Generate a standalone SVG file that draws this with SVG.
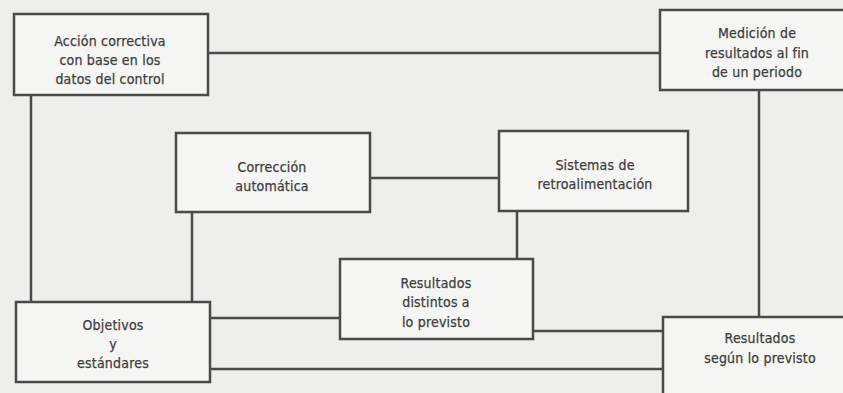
<svg xmlns="http://www.w3.org/2000/svg" width="843" height="393" viewBox="0 0 843 393">
<style>
.bg{fill:#eeeeec}
.box{fill:#f5f5f3;stroke:#4a4a4a;stroke-width:2.5}
.ln{fill:none;stroke:#4a4a4a;stroke-width:2.5}
.t{font-family:"DejaVu Sans Condensed","DejaVu Sans",sans-serif;font-size:14px;letter-spacing:0.2px;fill:#3e3e3e;stroke:#3e3e3e;stroke-width:0.25;text-anchor:middle}
</style>
<rect class="bg" x="0" y="0" width="843" height="393"/>
<g id="connectors">
<line class="ln" x1="208" y1="53" x2="660" y2="53"/>
<line class="ln" x1="31" y1="95" x2="31" y2="302"/>
<line class="ln" x1="759" y1="90" x2="759" y2="317"/>
<line class="ln" x1="370" y1="178" x2="499" y2="178"/>
<line class="ln" x1="192" y1="212" x2="192" y2="302"/>
<line class="ln" x1="517" y1="211" x2="517" y2="259"/>
<line class="ln" x1="210" y1="318" x2="340" y2="318"/>
<line class="ln" x1="533" y1="331" x2="663" y2="331"/>
<line class="ln" x1="210" y1="369" x2="663" y2="369"/>
</g>
<g id="n-accion">
<rect class="box" x="14" y="14" width="194" height="81"/>
<text class="t" x="110" y="46">Acción correctiva</text>
<text class="t" x="110" y="65">con base en los</text>
<text class="t" x="110" y="84">datos del control</text>
</g>
<g id="n-medicion">
<rect class="box" x="660" y="10" width="200" height="80"/>
<text class="t" x="757" y="38">Medición de</text>
<text class="t" x="757" y="58">resultados al fin</text>
<text class="t" x="757" y="77">de un periodo</text>
</g>
<g id="n-correccion">
<rect class="box" x="176" y="133" width="194" height="79"/>
<text class="t" x="272" y="172">Corrección</text>
<text class="t" x="272" y="191">automática</text>
</g>
<g id="n-sistemas">
<rect class="box" x="499" y="131" width="189" height="80"/>
<text class="t" x="595" y="170">Sistemas de</text>
<text class="t" x="595" y="189">retroalimentación</text>
</g>
<g id="n-distintos">
<rect class="box" x="340" y="259" width="193" height="80"/>
<text class="t" x="436" y="288">Resultados</text>
<text class="t" x="436" y="307">distintos a</text>
<text class="t" x="436" y="327">lo previsto</text>
</g>
<g id="n-objetivos">
<rect class="box" x="16" y="302" width="194" height="80"/>
<text class="t" x="113" y="330">Objetivos</text>
<text class="t" x="113" y="349">y</text>
<text class="t" x="113" y="368">estándares</text>
</g>
<g id="n-segun">
<rect class="box" x="663" y="317" width="200" height="90"/>
<text class="t" x="760" y="343">Resultados</text>
<text class="t" x="760" y="363">según lo previsto</text>
</g>
</svg>
